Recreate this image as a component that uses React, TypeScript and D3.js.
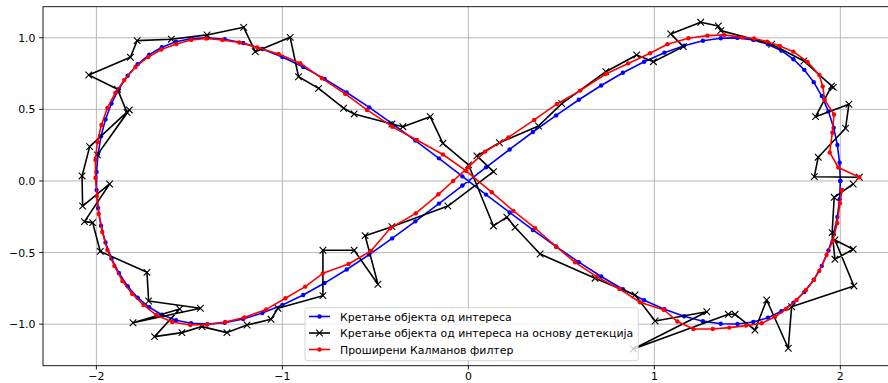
import React from "react";
import * as d3 from "d3";

// true trajectory (blue)
const blueX = [2.000,1.996,1.984,1.964,1.936,1.900,1.857,1.806,1.748,1.683,1.611,1.532,1.447,1.357,1.261,1.160,1.054,0.945,0.831,0.714,0.594,0.472,0.347,0.222,0.095,-0.032,-0.158,-0.285,-0.410,-0.533,-0.654,-0.773,-0.888,-1.000,-1.108,-1.211,-1.310,-1.403,-1.491,-1.572,-1.648,-1.716,-1.778,-1.832,-1.879,-1.919,-1.951,-1.975,-1.991,-1.999,-1.999,-1.991,-1.975,-1.951,-1.919,-1.879,-1.832,-1.778,-1.716,-1.648,-1.572,-1.491,-1.403,-1.310,-1.211,-1.108,-1.000,-0.888,-0.773,-0.654,-0.533,-0.410,-0.285,-0.158,-0.032,0.095,0.222,0.347,0.472,0.594,0.714,0.831,0.945,1.054,1.160,1.261,1.357,1.447,1.532,1.611,1.683,1.748,1.806,1.857,1.900,1.936,1.964,1.984,1.996,2.000];
const blueY = [0,0.127,0.251,0.372,0.486,0.593,0.690,0.776,0.850,0.910,0.955,0.985,0.999,0.997,0.979,0.945,0.896,0.833,0.756,0.667,0.567,0.458,0.342,0.220,0.095,-0.032,-0.158,-0.282,-0.401,-0.514,-0.618,-0.713,-0.796,-0.866,-0.922,-0.964,-0.990,-1.000,-0.994,-0.972,-0.934,-0.882,-0.815,-0.735,-0.643,-0.541,-0.430,-0.312,-0.189,-0.063,0.063,0.189,0.312,0.430,0.541,0.643,0.735,0.815,0.882,0.934,0.972,0.994,1.000,0.990,0.964,0.922,0.866,0.796,0.713,0.618,0.514,0.401,0.282,0.158,0.032,-0.095,-0.220,-0.342,-0.458,-0.567,-0.667,-0.756,-0.833,-0.896,-0.945,-0.979,-0.997,-0.999,-0.985,-0.955,-0.910,-0.850,-0.776,-0.690,-0.593,-0.486,-0.372,-0.251,-0.127,0];

// detections (black)
const blackX = [2.102,1.860,1.881,2.028,2.046,1.867,1.953,1.962,1.804,1.631,1.357,1.344,1.249,1.088,1.156,0.995,0.905,0.739,0.502,0.377,0.167,0.046,0.135,-0.110,-0.411,-0.555,-0.486,-0.614,-0.782,-0.782,-1.024,-1.061,-1.190,-1.298,-1.432,-1.540,-1.687,-1.552,-1.803,-1.441,-1.719,-1.728,-1.979,-2.020,-2.064,-1.929,-2.074,-2.077,-2.036,-1.823,-1.995,-1.835,-1.886,-2.041,-1.817,-1.781,-1.597,-1.405,-1.208,-1.146,-0.958,-0.913,-0.805,-0.671,-0.614,-0.411,-0.352,-0.205,-0.137,0.001,0.135,0.207,0.251,0.386,0.681,0.896,1.004,1.282,0.887,1.398,1.434,1.541,1.604,1.720,1.738,2.073,1.971,2.069,1.971,1.956,1.967,2.069];
const blackY = [0.026,0.030,0.166,0.368,0.536,0.449,0.663,0.654,0.838,0.955,1.050,1.082,1.108,1.027,0.938,0.833,0.880,0.763,0.540,0.384,0.267,0.175,0.065,-0.175,-0.319,-0.382,-0.721,-0.484,-0.484,-0.801,-0.889,-0.966,-1.006,-1.059,-1.017,-1.059,-1.087,-0.894,-0.990,-0.889,-0.838,-0.638,-0.492,-0.291,-0.284,-0.021,-0.175,0.035,0.240,0.496,0.182,0.477,0.640,0.740,0.864,0.980,0.990,1.020,1.073,0.903,1.003,0.728,0.647,0.508,0.468,0.398,0.379,0.449,0.263,0.112,-0.314,-0.253,-0.323,-0.510,-0.679,-0.796,-0.978,-0.913,-1.173,-0.931,-0.931,-1.041,-0.831,-1.168,-0.878,-0.733,-0.412,-0.477,-0.547,-0.361,-0.114,-0.021];

// extended kalman filter estimate (red)
const redX = [2.102,1.989,1.943,1.957,1.966,1.916,1.905,1.887,1.824,1.747,1.675,1.607,1.536,1.470,1.375,1.285,1.183,1.070,0.977,0.859,0.739,0.601,0.476,0.354,0.215,0.090,0.001,-0.082,-0.161,-0.283,-0.420,-0.524,-0.644,-0.782,-0.877,-0.984,-1.087,-1.205,-1.307,-1.404,-1.495,-1.592,-1.678,-1.747,-1.807,-1.860,-1.903,-1.941,-1.968,-1.987,-1.997,-2.005,-2.005,-1.995,-1.973,-1.941,-1.898,-1.850,-1.790,-1.721,-1.651,-1.570,-1.490,-1.409,-1.323,-1.232,-1.135,-1.020,-0.904,-0.787,-0.662,-0.545,-0.409,-0.277,-0.137,-0.012,0.126,0.242,0.359,0.472,0.574,0.690,0.812,0.923,1.052,1.124,1.210,1.314,1.403,1.493,1.577,1.649,1.708,1.765,1.815,1.858,1.887,1.926,1.959,1.983,1.998,2.009];
const redY = [0.026,0.094,0.199,0.337,0.464,0.566,0.660,0.740,0.831,0.903,0.943,0.973,0.995,1.003,1.020,1.015,0.997,0.955,0.892,0.821,0.747,0.631,0.538,0.426,0.304,0.205,0.098,0.000,-0.093,-0.226,-0.330,-0.489,-0.580,-0.645,-0.738,-0.819,-0.897,-0.953,-0.985,-1.002,-1.006,-0.985,-0.936,-0.866,-0.789,-0.698,-0.594,-0.482,-0.356,-0.230,-0.105,0.021,0.147,0.272,0.391,0.510,0.615,0.705,0.796,0.866,0.918,0.957,0.985,0.995,0.985,0.967,0.932,0.887,0.822,0.717,0.608,0.496,0.379,0.286,0.185,0.070,-0.079,-0.209,-0.330,-0.459,-0.568,-0.668,-0.754,-0.847,-0.901,-0.981,-1.034,-1.034,-1.024,-1.010,-0.994,-0.948,-0.894,-0.831,-0.761,-0.691,-0.628,-0.517,-0.419,-0.295,-0.156,-0.063];

const xTicks = [-2, -1, 0, 1, 2];
const xTickLabels = ["\u22122", "\u22121", "0", "1", "2"];
const yTicks = [-1, -0.5, 0, 0.5, 1];
const yTickLabels = ["\u22121.0", "\u22120.5", "0.0", "0.5", "1.0"];
const legendLabels = [
  "Кретање објекта од интереса",
  "Кретање објекта од интереса на основу детекција",
  "Проширени Калманов филтер",
];

const W = 888;
const H = 383;
const left = 43, right = 898, top = 6.7, bottom = 365.7;
const font = "DejaVu Sans, sans-serif";
const fs = 10.9;

const App = () => {
  const x = d3.scaleLinear().domain([-2.287, 2.31]).range([left, right]);
  const y = d3.scaleLinear().domain([-1.29, 1.217]).range([bottom, top]);

  const toPts = (xs: number[], ys: number[]) => xs.map((v, i) => [x(v), y(ys[i])] as [number, number]);
  const line = d3.line();

  const blue = toPts(blueX, blueY);
  const black = toPts(blackX, blackY);
  const red = toPts(redX, redY);

  const xMark = "M-3.3,-3.3L3.3,3.3M-3.3,3.3L3.3,-3.3";
  const legX = 305, legY = 307.7, legW = 333.3, legH = 53;
  const rowY = [316.5, 333, 349.5];
  const colors = ["#0000ff", "#000000", "#ff0000"];

  return (
    <svg width={W} height={H} style={{ position: "absolute", left: 0, top: 0, background: "#fff" }} fontFamily={font}>
      <defs>
        <clipPath id="plotclip">
          <rect x={left} y={top} width={right - left} height={bottom - top} />
        </clipPath>
      </defs>
      {/* grid */}
      {xTicks.map((t) => (
        <line key={"gx" + t} x1={x(t)} x2={x(t)} y1={top} y2={bottom} stroke="#b0b0b0" strokeWidth={0.9} />
      ))}
      {yTicks.map((t) => (
        <line key={"gy" + t} x1={left} x2={right} y1={y(t)} y2={y(t)} stroke="#b0b0b0" strokeWidth={0.9} />
      ))}

      <g clipPath="url(#plotclip)">
        <path d={line(blue) || ""} fill="none" stroke="#0000ff" strokeWidth={1.6} strokeLinejoin="round" />
        {blue.map((p, i) => (
          <circle key={"b" + i} cx={p[0]} cy={p[1]} r={2.2} fill="#0000ff" />
        ))}
        <path d={line(black) || ""} fill="none" stroke="#000000" strokeWidth={1.6} strokeLinejoin="round" />
        {black.map((p, i) => (
          <path key={"k" + i} d={xMark} transform={`translate(${p[0]},${p[1]})`} stroke="#000000" strokeWidth={1.1} fill="none" />
        ))}
        <path d={line(red) || ""} fill="none" stroke="#ff0000" strokeWidth={1.6} strokeLinejoin="round" />
        {red.map((p, i) => (
          <circle key={"r" + i} cx={p[0]} cy={p[1]} r={2.2} fill="#ff0000" />
        ))}
      </g>

      {/* spines */}
      <rect x={left} y={top} width={right - left} height={bottom - top} fill="none" stroke="#000" strokeWidth={0.9} />

      {/* ticks */}
      {xTicks.map((t, i) => (
        <g key={"tx" + t}>
          <line x1={x(t)} x2={x(t)} y1={bottom} y2={bottom + 3.8} stroke="#000" strokeWidth={0.9} />
          <text x={x(t)} y={380.3} fontSize={fs} textAnchor="middle" fill="#000">{xTickLabels[i]}</text>
        </g>
      ))}
      {yTicks.map((t, i) => (
        <g key={"ty" + t}>
          <line x1={left - 3.8} x2={left} y1={y(t)} y2={y(t)} stroke="#000" strokeWidth={0.9} />
          <text x={left - 7.5} y={y(t) + 4} fontSize={fs} textAnchor="end" fill="#000">{yTickLabels[i]}</text>
        </g>
      ))}

      {/* legend */}
      <rect x={legX} y={legY} width={legW} height={legH} rx={2.5} fill="#fff" fillOpacity={0.8} stroke="#cccccc" strokeOpacity={0.8} strokeWidth={1} />
      {legendLabels.map((lab, i) => (
        <g key={"l" + i}>
          <line x1={309} x2={330} y1={rowY[i]} y2={rowY[i]} stroke={colors[i]} strokeWidth={1.6} />
          {i === 1 ? (
            <path d={xMark} transform={`translate(319.5,${rowY[i]})`} stroke="#000" strokeWidth={1.1} fill="none" />
          ) : (
            <circle cx={319.5} cy={rowY[i]} r={2.2} fill={colors[i]} />
          )}
          <text x={340} y={rowY[i] + 4} fontSize={fs} fill="#000">{lab}</text>
        </g>
      ))}
    </svg>
  );
};

export default App;
